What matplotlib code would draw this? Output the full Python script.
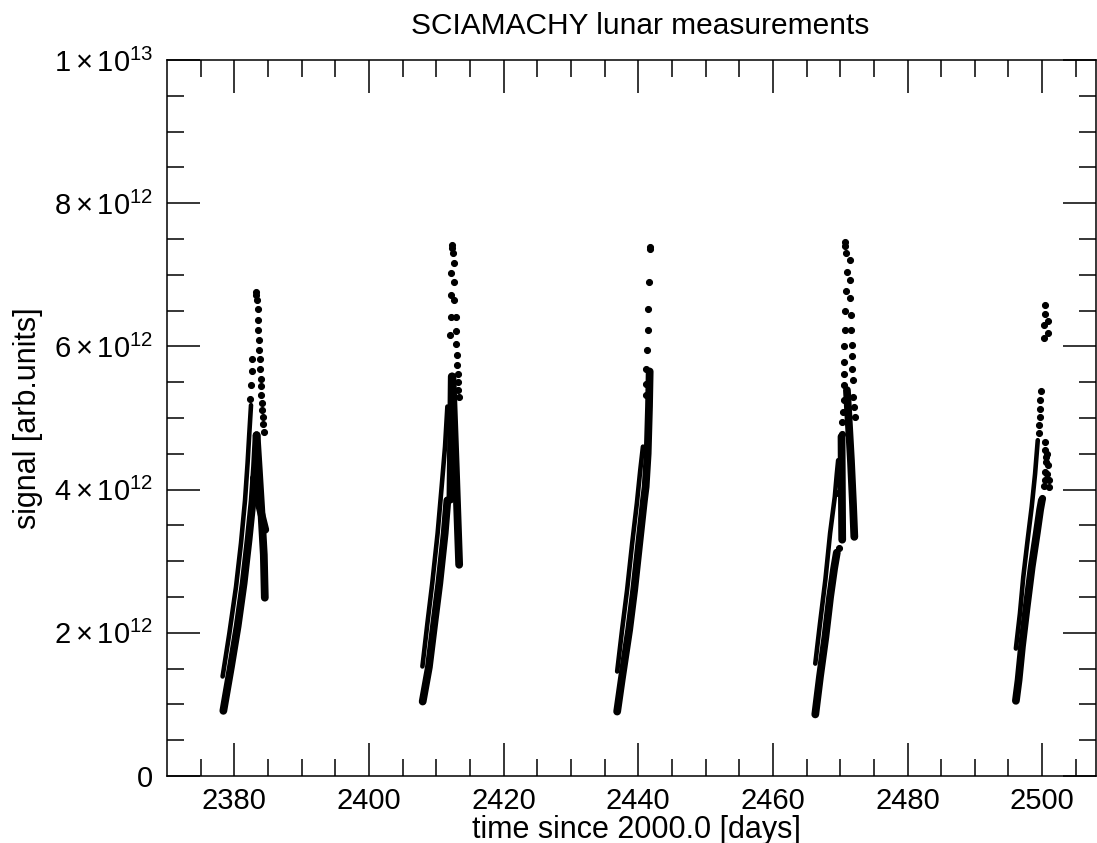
import numpy as np
import matplotlib
matplotlib.use("Agg")
from matplotlib import pyplot as plt

plt.rcParams["font.family"] = ["Liberation Sans", "DejaVu Sans"]
plt.rcParams["mathtext.fontset"] = "custom"
plt.rcParams["mathtext.rm"] = "Liberation Sans"
plt.rcParams["mathtext.it"] = "Liberation Sans"

# signal values in units of 1e12, time in days since 2000.0

# lunar cycle 1
c1_up_t = [2378.26, 2379.26, 2380.25, 2380.99, 2381.59, 2381.97, 2382.23, 2382.48]
c1_up_s = [1.39, 1.99, 2.64, 3.25, 3.85, 4.37, 4.79, 5.18]
c1_lo_t = [2378.37, 2379.51, 2380.49, 2381.38, 2382.12, 2382.72, 2383.07, 2383.31]
c1_lo_s = [0.91, 1.53, 2.09, 2.69, 3.30, 3.85, 4.32, 4.76]
c1_fa_t = [2383.31, 2383.64, 2384.0, 2384.38, 2384.53]
c1_fa_s = [4.76, 4.27, 3.72, 3.09, 2.49]
c1_fb_t = [2382.9, 2383.7, 2384.6]
c1_fb_s = [4.16, 3.78, 3.44]
c1_dot_t = [2382.3, 2382.5, 2382.57, 2382.7, 2383.2, 2383.2, 2383.36, 2383.5, 2383.5,
            2383.56, 2383.6, 2383.7, 2383.75, 2383.8, 2383.9, 2383.96, 2384.0, 2384.1,
            2384.15, 2384.2, 2384.3, 2384.35]
c1_dot_s = [5.27, 5.46, 5.65, 5.82, 6.76, 6.72, 6.65, 6.52, 6.37, 6.23, 6.09, 5.95, 5.82,
            5.68, 5.55, 5.44, 5.32, 5.21, 5.11, 5.02, 4.92, 4.81]

# lunar cycle 2
c2_up_t = [2407.94, 2408.68, 2409.4, 2410.2, 2410.8, 2411.3, 2411.65]
c2_up_s = [1.53, 2.13, 2.69, 3.39, 4.04, 4.60, 5.16]
c2_lo_t = [2407.98, 2408.9, 2409.7, 2410.45, 2411.25, 2411.65]
c2_lo_s = [1.04, 1.52, 2.13, 2.69, 3.39, 3.85]
c2_fa_t = [2412.3, 2412.2, 2412.1]
c2_fa_s = [5.58, 4.70, 3.86]
c2_fb_t = [2412.4, 2412.9, 2413.4]
c2_fb_s = [5.58, 4.30, 2.95]
c2_dot_t = [2412.05, 2412.15, 2412.25, 2412.25, 2412.4, 2412.4, 2412.5, 2412.6, 2412.7,
            2412.7, 2412.9, 2412.9, 2413.0, 2413.04, 2413.13, 2413.2, 2413.26, 2413.26,
            2413.4]
c2_dot_s = [6.16, 6.41, 6.72, 7.02, 7.42, 7.38, 7.30, 7.16, 6.90, 6.65, 6.41, 6.21, 6.04,
            5.88, 5.74, 5.61, 5.50, 5.39, 5.30]

# lunar cycle 3
c3_up_t = [2436.87, 2437.6, 2438.35, 2439.1, 2439.8, 2440.3, 2440.7]
c3_up_s = [1.46, 2.04, 2.60, 3.25, 3.81, 4.27, 4.60]
c3_lo_t = [2436.87, 2437.55, 2438.65, 2439.4, 2440.15, 2440.85, 2441.1, 2441.4, 2441.6,
           2441.7]
c3_lo_s = [0.90, 1.35, 2.04, 2.60, 3.25, 3.85, 4.04, 4.50, 5.16, 5.65]
c3_dot_t = [2441.1, 2441.1, 2441.15, 2441.3, 2441.4, 2441.5, 2441.6, 2441.7, 2441.72]
c3_dot_s = [5.48, 5.32, 5.69, 5.95, 6.23, 6.52, 6.90, 7.39, 7.36]

# lunar cycle 4
c4_up_t = [2466.3, 2467.0, 2467.8, 2468.5, 2469.2, 2469.5, 2469.7]
c4_up_s = [1.57, 2.13, 2.74, 3.39, 3.90, 4.22, 4.41]
c4_lo_t = [2466.3, 2467.0, 2467.8, 2468.5, 2469.1, 2469.5]
c4_lo_s = [0.86, 1.39, 1.94, 2.50, 2.90, 3.12]
c4_fa_t = [2470.2, 2470.25, 2470.3]
c4_fa_s = [4.74, 4.00, 3.30]
c4_fb_t = [2471.0, 2471.3, 2471.6, 2471.9, 2472.1]
c4_fb_s = [5.39, 4.90, 4.40, 3.80, 3.34]
c4_dot_t = [2470.7, 2470.75, 2470.85, 2470.95, 2470.85, 2470.7, 2470.7, 2470.6, 2470.6,
            2470.6, 2470.5, 2470.5, 2470.35, 2470.3, 2470.3,
            2471.4, 2471.5, 2471.5, 2471.6, 2471.6, 2471.7, 2471.7, 2471.8, 2471.85,
            2471.9, 2472.05, 2472.15, 2469.7, 2469.76]
c4_dot_s = [7.46, 7.40, 7.30, 7.04, 6.77, 6.49, 6.23, 6.00, 5.78, 5.61, 5.46, 5.25, 5.09,
            4.94, 4.78,
            7.21, 6.93, 6.67, 6.44, 6.23, 6.02, 5.86, 5.69, 5.53, 5.30, 5.16, 5.02,
            3.95, 3.18]

# lunar cycle 5
c5_up_t = [2496.1, 2496.7, 2497.2, 2497.85, 2498.45, 2498.95, 2499.35]
c5_up_s = [1.78, 2.27, 2.78, 3.30, 3.76, 4.22, 4.69]
c5_lo_t = [2496.1, 2496.5, 2497.0, 2497.7, 2498.45, 2499.2, 2499.7, 2499.95]
c5_lo_s = [1.05, 1.34, 1.81, 2.36, 2.92, 3.39, 3.72, 3.85]
c5_dot_t = [2499.55, 2499.6, 2499.65, 2499.7, 2499.75, 2499.8,
            2500.4, 2500.4, 2500.25, 2500.9, 2500.9, 2500.25,
            2500.4, 2500.45, 2500.75, 2500.6, 2500.9, 2500.45, 2500.75, 2500.4, 2501.0,
            2500.3, 2501.0, 2500.6, 2499.95]
c5_dot_s = [4.79, 4.90, 5.02, 5.13, 5.25, 5.38,
            6.58, 6.45, 6.30, 6.35, 6.19, 6.12,
            4.67, 4.55, 4.50, 4.39, 4.34, 4.25, 4.22, 4.13, 4.13, 4.05, 4.03, 4.46, 3.88]

y_ticks = [0, 2e12, 4e12, 6e12, 8e12, 1e13]
y_labels = ["0", r"$2\times10^{12}$", r"$4\times10^{12}$", r"$6\times10^{12}$",
            r"$8\times10^{12}$", r"$1\times10^{13}$"]

thin = [(c1_up_t, c1_up_s), (c2_up_t, c2_up_s), (c3_up_t, c3_up_s),
        (c4_up_t, c4_up_s), (c5_up_t, c5_up_s)]
thick = [(c1_lo_t, c1_lo_s), (c1_fa_t, c1_fa_s), (c1_fb_t, c1_fb_s),
         (c2_lo_t, c2_lo_s), (c2_fa_t, c2_fa_s), (c2_fb_t, c2_fb_s),
         (c3_lo_t, c3_lo_s),
         (c4_lo_t, c4_lo_s), (c4_fa_t, c4_fa_s), (c4_fb_t, c4_fb_s),
         (c5_lo_t, c5_lo_s)]
dots = [(c1_dot_t, c1_dot_s), (c2_dot_t, c2_dot_s), (c3_dot_t, c3_dot_s),
        (c4_dot_t, c4_dot_s), (c5_dot_t, c5_dot_s)]

fig = plt.figure(figsize=(10.97, 8.43), dpi=100)
ax = fig.add_axes([167 / 1097, 67 / 843, 929 / 1097, 716 / 843])

for t, s in thin:
    ax.plot(t, np.array(s) * 1e12, color="k", lw=3.3,
            solid_capstyle="round", solid_joinstyle="round")
for t, s in thick:
    ax.plot(t, np.array(s) * 1e12, color="k", lw=5.6,
            solid_capstyle="round", solid_joinstyle="round")
for t, s in dots:
    ax.plot(t, np.array(s) * 1e12, "o", color="k", ms=4.3, mew=0.8,
            mfc="k", mec="k")

ax.set_xlim(2370, 2508)
ax.set_ylim(0, 1e13)
ax.set_xticks([2380, 2400, 2420, 2440, 2460, 2480, 2500])
ax.set_xticks(np.arange(2375, 2508, 5), minor=True)
ax.set_yticks(y_ticks)
ax.set_yticklabels(y_labels)
ax.set_yticks(np.arange(0, 1e13 + 1, 5e11), minor=True)

ax.tick_params(which="both", direction="in", top=True, right=True, width=1.1,
               labelsize=21, colors="k")
ax.tick_params(which="major", length=23.5)
ax.tick_params(which="minor", length=12)
ax.tick_params(axis="x", pad=8)
ax.tick_params(axis="y", pad=10)
for sp in ax.spines.values():
    sp.set_linewidth(1.1)

ax.set_title("SCIAMACHY lunar measurements", fontsize=21.5, pad=19, x=0.509)
ax.set_xlabel("time since 2000.0 [days]", fontsize=22, labelpad=0, x=0.505)
ax.set_ylabel("signal [arb.units]", fontsize=22, labelpad=8)

fig.savefig("out.png", dpi=100)
